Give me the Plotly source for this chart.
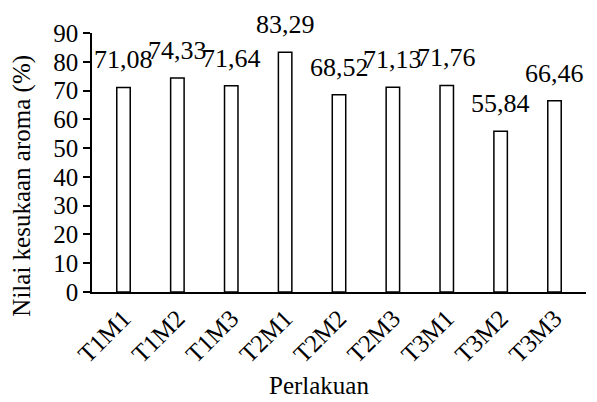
import plotly.graph_objects as go

categories = ["T1M1", "T1M2", "T1M3", "T2M1", "T2M2", "T2M3", "T3M1", "T3M2", "T3M3"]
values = [71.08, 74.33, 71.64, 83.29, 68.52, 71.13, 71.76, 55.84, 66.46]
labels = ["71,08", "74,33", "71,64", "83,29", "68,52", "71,13", "71,76", "55,84", "66,46"]
y_ticks = [0, 10, 20, 30, 40, 50, 60, 70, 80, 90]

FONT = "Times New Roman"

fig = go.Figure()
fig.add_trace(go.Bar(
    x=categories, y=values,
    marker=dict(color="white", line=dict(color="black", width=1.5)),
    width=0.25,
    hoverinfo="skip",
))

for c, v, t in zip(categories, values, labels):
    fig.add_annotation(x=c, y=v, text=t, showarrow=False, xanchor="center",
                       yanchor="bottom", yshift=11,
                       font=dict(family=FONT, size=26, color="black"))

fig.add_annotation(xref="paper", yref="paper", x=-0.142, y=0.41,
                   text="Nilai kesukaan aroma (%)", showarrow=False, textangle=-90,
                   xanchor="center", yanchor="middle",
                   font=dict(family=FONT, size=25, color="black"))
fig.add_annotation(xref="paper", yref="paper", x=0.46, y=-0.36,
                   text="Perlakuan", showarrow=False,
                   xanchor="center", yanchor="middle",
                   font=dict(family=FONT, size=25, color="black"))

fig.update_layout(
    width=597, height=402,
    margin=dict(l=84, r=19, t=23, b=118),
    paper_bgcolor="white", plot_bgcolor="white",
    showlegend=False,
    font=dict(family=FONT, size=24, color="black"),
)
fig.update_xaxes(
    showline=True, linecolor="black", linewidth=1.5,
    ticks="", tickangle=-45, showgrid=False,
    tickfont=dict(family=FONT, size=25, color="black"),
)
fig.update_yaxes(
    range=[0, 90], tickvals=y_ticks, showline=True, linecolor="black", linewidth=1.5,
    ticks="outside", ticklen=7, tickcolor="black", tickwidth=1.5,
    showgrid=False, zeroline=False,
    tickfont=dict(family=FONT, size=25, color="black"),
)

fig.write_html("out.html")
